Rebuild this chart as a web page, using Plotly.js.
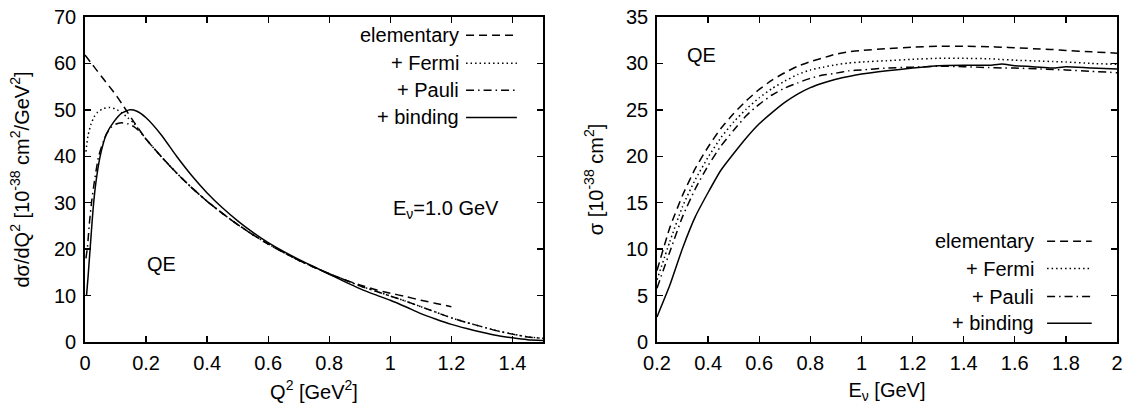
<!DOCTYPE html>
<html>
<head>
<meta charset="utf-8">
<script src="https://cdn.plot.ly/plotly-3.0.1.min.js"></script>
<style>html,body{margin:0;padding:0;background:#fff;}#chart{width:1127px;height:408px;}</style>
</head>
<body>
<div id="chart"></div>
<script>
// ---------- Left panel: dσ/dQ² at Eν = 1.0 GeV ----------
const q2Elem = [0, 0.02, 0.04, 0.06, 0.08, 0.1, 0.12, 0.14, 0.16, 0.2, 0.25, 0.3, 0.35, 0.4, 0.45, 0.5, 0.55, 0.6, 0.65, 0.7, 0.75, 0.8, 0.85, 0.9, 0.95, 1.0, 1.05, 1.1, 1.15, 1.2];
const dsElem = [61.8, 60.1, 58.4, 56.7, 55.0, 53.3, 51.4, 49.4, 47.4, 43.7, 39.9, 36.4, 33.2, 30.3, 27.7, 25.3, 23.1, 21.1, 19.3, 17.6, 16.1, 14.7, 13.4, 12.3, 11.3, 10.5, 9.8, 9.0, 8.3, 7.6];

const q2Fermi = [0.003, 0.01, 0.02, 0.03, 0.04, 0.06, 0.08, 0.1, 0.12, 0.14, 0.16, 0.2, 0.25, 0.3, 0.35, 0.4, 0.45, 0.5, 0.55, 0.6, 0.65, 0.7, 0.75, 0.8, 0.85, 0.9, 0.95, 1.0, 1.05, 1.1, 1.15, 1.2, 1.25, 1.3, 1.35, 1.4, 1.45, 1.5];
const dsFermi = [41.0, 44.5, 47.0, 48.5, 49.4, 50.3, 50.5, 50.2, 49.4, 48.3, 47.1, 43.7, 39.9, 36.4, 33.2, 30.3, 27.7, 25.3, 23.1, 21.1, 19.3, 17.6, 16.1, 14.7, 13.4, 12.1, 11.0, 9.9, 8.8, 7.6, 6.4, 5.2, 4.2, 3.3, 2.4, 1.7, 1.1, 0.8];

const q2Pauli = [0.003, 0.008, 0.015, 0.022, 0.03, 0.044, 0.06, 0.071, 0.085, 0.1, 0.12, 0.14, 0.16, 0.18, 0.2, 0.25, 0.3, 0.35, 0.4, 0.45, 0.5, 0.55, 0.6, 0.65, 0.7, 0.75, 0.8, 0.85, 0.9, 0.95, 1.0, 1.05, 1.1, 1.15, 1.2, 1.25, 1.3, 1.35, 1.4, 1.45, 1.5];
const dsPauli = [18.0, 20.4, 26.0, 30.4, 34.2, 39.8, 43.2, 44.9, 46.2, 46.9, 47.2, 47.0, 46.4, 45.3, 43.7, 39.9, 36.4, 33.2, 30.3, 27.7, 25.3, 23.1, 21.1, 19.3, 17.6, 16.1, 14.7, 13.4, 12.1, 11.0, 9.9, 8.8, 7.6, 6.4, 5.2, 4.2, 3.3, 2.4, 1.7, 1.1, 0.8];

const q2Bind = [0.005, 0.01, 0.015, 0.02, 0.027, 0.035, 0.049, 0.06, 0.071, 0.093, 0.12, 0.147, 0.17, 0.2, 0.25, 0.3, 0.35, 0.4, 0.45, 0.5, 0.55, 0.6, 0.65, 0.7, 0.75, 0.8, 0.85, 0.9, 0.95, 1.0, 1.05, 1.1, 1.15, 1.2, 1.25, 1.3, 1.35, 1.4, 1.45, 1.5];
const dsBind = [10.0, 14.0, 18.5, 23.0, 29.0, 34.0, 39.8, 42.8, 44.9, 47.3, 49.3, 50.0, 49.7, 48.3, 44.6, 40.0, 35.8, 32.1, 28.9, 26.1, 23.6, 21.4, 19.5, 17.8, 16.2, 14.6, 13.0, 11.5, 10.2, 9.0, 7.6, 6.1, 4.9, 3.8, 2.9, 2.1, 1.4, 0.9, 0.5, 0.3];

// ---------- Right panel: σ(Eν) ----------
const eNu = [0.2, 0.25, 0.3, 0.35, 0.4, 0.45, 0.5, 0.55, 0.6, 0.65, 0.7, 0.75, 0.8, 0.85, 0.9, 0.95, 1.0, 1.1, 1.2, 1.3, 1.4, 1.5, 1.55, 1.6, 1.7, 1.75, 1.8, 1.9, 2.0];
const sigElem  = [7.7, 12.3, 15.8, 18.7, 21.0, 23.0, 24.6, 26.0, 27.2, 28.2, 29.0, 29.7, 30.2, 30.6, 31.0, 31.25, 31.4, 31.6, 31.75, 31.85, 31.85, 31.8, 31.75, 31.7, 31.55, 31.5, 31.4, 31.25, 31.1];
const sigFermi = [6.7, 10.8, 14.6, 17.5, 19.9, 22.0, 23.7, 25.1, 26.3, 27.3, 28.1, 28.8, 29.3, 29.6, 29.85, 30.05, 30.15, 30.3, 30.45, 30.55, 30.55, 30.5, 30.42, 30.35, 30.25, 30.2, 30.15, 30.0, 29.9];
const sigPauli = [5.8, 9.7, 13.5, 16.5, 19.0, 21.1, 22.8, 24.4, 25.6, 26.6, 27.35, 27.9, 28.4, 28.75, 28.95, 29.2, 29.3, 29.5, 29.6, 29.7, 29.65, 29.55, 29.5, 29.5, 29.4, 29.35, 29.3, 29.15, 29.0];
const sigBind  = [2.7, 6.1, 10.1, 13.5, 16.1, 18.5, 20.3, 22.0, 23.5, 24.7, 25.8, 26.7, 27.4, 27.9, 28.3, 28.6, 28.85, 29.2, 29.5, 29.75, 29.8, 29.8, 29.95, 29.75, 29.6, 29.5, 29.65, 29.5, 29.4];

const seriesNames = ["elementary", "+ Fermi", "+ Pauli", "+ binding"];
const xTicksL = [0, 0.2, 0.4, 0.6, 0.8, 1, 1.2, 1.4];
const yTicksL = [0, 10, 20, 30, 40, 50, 60, 70];
const xTicksR = [0.2, 0.4, 0.6, 0.8, 1, 1.2, 1.4, 1.6, 1.8, 2];
const yTicksR = [0, 5, 10, 15, 20, 25, 30, 35];

const FONT = "Liberation Sans, Arial, Helvetica, sans-serif";
const FS = 20;
const dashes = ["8px,5px", "1.5px,3px", "8px,4px,1.5px,4px", "solid"];
const LW = 1.5;

function tr(x, y, i, ax) {
  return {x: x, y: y, type: "scatter", mode: "lines", name: seriesNames[i],
          xaxis: ax[0], yaxis: ax[1], showlegend: false, hoverinfo: "skip",
          line: {color: "#000", width: LW, dash: dashes[i], shape: "spline", smoothing: 0.5}};
}

const data = [
  tr(q2Elem, dsElem, 0, ["x", "y"]),
  tr(q2Fermi, dsFermi, 1, ["x", "y"]),
  tr(q2Pauli, dsPauli, 2, ["x", "y"]),
  tr(q2Bind, dsBind, 3, ["x", "y"]),
  tr(eNu, sigElem, 0, ["x2", "y2"]),
  tr(eNu, sigFermi, 1, ["x2", "y2"]),
  tr(eNu, sigPauli, 2, ["x2", "y2"]),
  tr(eNu, sigBind, 3, ["x2", "y2"])
];

const W = 1127, H = 408;
const axBase = {showline: true, linewidth: 1.8, linecolor: "#000", mirror: "ticks",
  ticks: "inside", ticklen: 6, tickwidth: 1.4, tickcolor: "#000", showgrid: false, zeroline: false,
  tickfont: {family: FONT, size: FS, color: "#000"}, tickmode: "array", fixedrange: true};

const layout = {
  width: W, height: H,
  margin: {l: 0, r: 0, t: 17, b: 66},
  paper_bgcolor: "#fff", plot_bgcolor: "#fff",
  font: {family: FONT, size: FS, color: "#000"},
  showlegend: false,
  xaxis: Object.assign({}, axBase, {domain: [85 / W, 543 / W], range: [0, 1.5], tickvals: xTicksL,
    ticktext: xTicksL.map(String), anchor: "y", ticklabelstandoff: 2,
    title: {text: "Q<sup>2</sup> [GeV<sup>2</sup>]", font: {family: FONT, size: FS}, standoff: 12}}),
  yaxis: Object.assign({}, axBase, {domain: [0, 1], range: [0, 70], tickvals: yTicksL, anchor: "x", ticklabelstandoff: 3,
    title: {text: "dσ/dQ<sup>2</sup> [10<sup>-38</sup> cm<sup>2</sup>/GeV<sup>2</sup>]", font: {family: FONT, size: FS}, standoff: 19}}),
  xaxis2: Object.assign({}, axBase, {domain: [657 / W, 1117 / W], range: [0.2, 2], tickvals: xTicksR,
    ticktext: xTicksR.map(String), anchor: "y2", ticklabelstandoff: 2,
    title: {text: "E<sub>ν</sub> [GeV]", font: {family: FONT, size: FS}, standoff: 10}}),
  yaxis2: Object.assign({}, axBase, {domain: [0, 1], range: [0, 35], tickvals: yTicksR, anchor: "x2", ticklabelstandoff: 3,
    title: {text: "σ [10<sup>-38</sup> cm<sup>2</sup>]", font: {family: FONT, size: FS}, standoff: 17}}),
  annotations: [],
  shapes: []
};

layout.annotations.push(
  {xref: "x", yref: "y", x: 1.183, y: 28.5, text: "E<sub>ν</sub>=1.0 GeV", showarrow: false, font: {family: FONT, size: FS}},
  {xref: "x", yref: "y", x: 0.25, y: 16.8, text: "QE", showarrow: false, font: {family: FONT, size: FS}},
  {xref: "x2", yref: "y2", x: 0.376, y: 30.9, text: "QE", showarrow: false, font: {family: FONT, size: FS}}
);

// legend keys (text right aligned, sample line to the right), as in the original
function legendBlock(xr, yr, textX, lx0, lx1, ys) {
  seriesNames.forEach(function (nm, i) {
    layout.annotations.push({xref: xr, yref: yr, x: textX, y: ys[i], xanchor: "right", yanchor: "middle",
      text: nm, showarrow: false, font: {family: FONT, size: FS}});
    layout.shapes.push({type: "line", xref: xr, yref: yr, x0: lx0, x1: lx1, y0: ys[i], y1: ys[i],
      line: {color: "#000", width: LW, dash: dashes[i]}});
  });
}
legendBlock("x domain", "y domain", 0.82, 0.832, 0.943, [0.944, 0.858, 0.775, 0.691]);
legendBlock("x2 domain", "y2 domain", 0.823, 0.848, 0.945, [0.310, 0.226, 0.140, 0.058]);

Plotly.newPlot("chart", data, layout, {staticPlot: true});
</script>
</body>
</html>
